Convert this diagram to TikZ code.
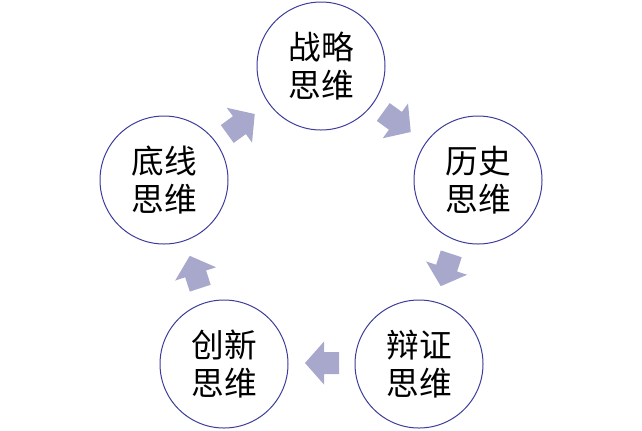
\documentclass[tikz,border=0pt]{standalone}
\usepackage{fontspec}
\newfontfamily\cjk{Noto Sans CJK SC}
\definecolor{ringcol}{HTML}{3C3C9C}
\definecolor{arrowcol}{HTML}{A8A8CC}
\tikzset{
  circ/.style={circle, draw=ringcol, line width=0.75pt, minimum size=96pt, inner sep=0pt,
    align=center, font=\cjk\fontsize{24.5pt}{28.5pt}\selectfont},
  blockarrow/.pic={\fill[arrowcol] (-17,-11) -- (-2,-11) -- (-2,-21.5) -- (17,0) -- (-2,21.5) -- (-2,11) -- (-17,11) -- cycle;}
}
\begin{document}
\begin{tikzpicture}[x=0.75pt,y=-0.75pt]
\useasboundingbox (0,0) rectangle (642,430);
\node[circ] (zl) at (321,66) {战略\\思维};
\node[circ] (ls) at (478,180) {历史\\思维};
\node[circ] (bz) at (419,364) {辩证\\思维};
\node[circ] (cx) at (224,364) {创新\\思维};
\node[circ] (dx) at (164,180) {底线\\思维};
\pic[rotate=-36] at (397,122) {blockarrow};
\pic[rotate=-108] at (446,270) {blockarrow};
\pic[rotate=180] at (322,363) {blockarrow};
\pic[rotate=108] at (195,272) {blockarrow};
\pic[rotate=36] at (241,124) {blockarrow};
\end{tikzpicture}
\end{document}
